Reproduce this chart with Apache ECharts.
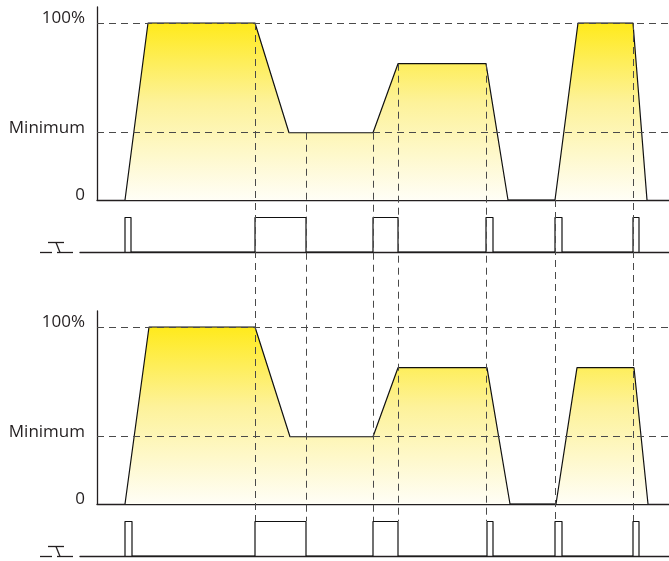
<!DOCTYPE html>
<html><head><meta charset="utf-8">
<script src="https://cdn.jsdelivr.net/npm/echarts@6/dist/echarts.min.js"></script>
<style>html,body{margin:0;padding:0;background:#fff}#c{width:669px;height:561px}</style>
</head><body><div id="c"></div>
<script>
// ---------------- data ----------------
// time in arbitrary units, level in % of full light output
const topLevelTimes    = [28, 51, 158, 192, 276, 301, 389, 411, 458, 481, 536, 550];
const topLevels        = [0, 100, 100, 38, 38, 77, 77, 0, 0, 100, 100, 0];
const bottomLevelTimes = [28, 52, 158, 193, 276, 301, 390, 413, 459, 480, 537, 551];
const bottomLevels     = [0, 100, 100, 38, 38, 77, 77, 0, 0, 77, 77, 0];
// push-button pulses (start / end times)
const topPulseStarts    = [28, 158, 276, 389, 458, 536];
const topPulseEnds      = [34, 209, 301, 396, 465, 542];
const bottomPulseStarts = [28, 158, 276, 390, 458, 536];
const bottomPulseEnds   = [35, 209, 301, 396, 465, 542];
// vertical guide lines: time and starting level (top panel)
const markerTimes  = [158, 209, 276, 301, 389, 458, 536];
const markerLevels = [100, 38, 38, 77, 77, 0, 100];
// y tick labels
const yTickValues = [0, 38, 100];
const yTickLabels = ['0', 'Minimum', '100%'];
const timeMin = 0, timeMax = 572, pulseTimeMin = -17;

// ---------------- layout ----------------
const INK = '#231f20', DASH = '#4a4a4a';
const FONT = '"Open Sans", "DejaVu Sans", sans-serif';
const panelOffsets = [0, 304];
const L = {axisTop: 7, full: 23, zero: 200, pulseTop: 217.5, pulseBase: 252, left: 97, pulseLeft: 80, width: 572};
const pxPerUnit = (L.zero - L.full) / 100;

function zip(xs, ys) { return xs.map((x, i) => [x, ys[i]]); }
function pulsePoints(starts, ends) {
  const pts = [];
  starts.forEach((s, i) => { pts.push([s, 0], [s, 1], [ends[i], 1], [ends[i], 0]); });
  return pts;
}

const grids = [], xAxes = [], yAxes = [], series = [], graphics = [];
const levelSets = [[topLevelTimes, topLevels], [bottomLevelTimes, bottomLevels]];
const pulseSets = [[topPulseStarts, topPulseEnds], [bottomPulseStarts, bottomPulseEnds]];

panelOffsets.forEach((off, p) => {
  // area grid
  const gA = grids.length;
  grids.push({left: L.left, top: L.axisTop + off, width: L.width, height: L.zero - L.axisTop});
  xAxes.push({type: 'value', gridIndex: gA, min: timeMin, max: timeMax,
    axisLine: {show: true, lineStyle: {color: INK, width: 1.3}}, axisTick: {show: false},
    axisLabel: {show: false}, splitLine: {show: false}});
  yAxes.push({type: 'value', gridIndex: gA, min: 0, max: 100 + (L.full - L.axisTop) / pxPerUnit,
    axisLine: {show: true, lineStyle: {color: INK, width: 1.3}}, axisTick: {show: false},
    splitLine: {show: false},
    axisLabel: {show: true, customValues: yTickValues, margin: 12, color: INK, fontFamily: FONT,
      fontSize: 17, lineHeight: 9, verticalAlign: 'bottom',
      formatter: v => yTickLabels[yTickValues.indexOf(v)]}});
  series.push({type: 'line', xAxisIndex: gA, yAxisIndex: gA, data: zip(levelSets[p][0], levelSets[p][1]),
    symbol: 'none', z: 2, lineStyle: {color: '#111', width: 1.2},
    areaStyle: {opacity: 1, color: new echarts.graphic.LinearGradient(0, 0, 0, 1, [
      {offset: 0, color: '#ffea1c'}, {offset: 0.45, color: '#fdf29a'}, {offset: 1, color: '#fffef6'}])},
    markLine: {silent: true, symbol: 'none', label: {show: false},
      lineStyle: {color: DASH, type: [7, 5], width: 1},
      data: [{yAxis: 100}, {yAxis: 38}]}});

  // pulse grid
  const gP = grids.length;
  grids.push({left: L.pulseLeft, top: L.pulseTop + off, width: L.width + L.left - L.pulseLeft,
    height: L.pulseBase - L.pulseTop});
  xAxes.push({type: 'value', gridIndex: gP, min: pulseTimeMin, max: timeMax,
    axisLine: {show: true, lineStyle: {color: INK, width: 1.3}}, axisTick: {show: false},
    axisLabel: {show: false}, splitLine: {show: false}});
  yAxes.push({type: 'value', gridIndex: gP, min: 0, max: 1, show: false, splitLine: {show: false}});
  series.push({type: 'line', xAxisIndex: gP, yAxisIndex: gP,
    data: pulsePoints(pulseSets[p][0], pulseSets[p][1]),
    symbol: 'none', lineStyle: {color: '#111', width: 1.2}});

  // switch symbol
  const b = L.pulseBase + off + 0.5, t = b - 10;
  const st = {stroke: INK, lineWidth: 1.3, fill: null};
  graphics.push(
    {type: 'polyline', shape: {points: [[40, b], [52, b]]}, style: st, silent: true},
    {type: 'polyline', shape: {points: [[57, b], [73, b]]}, style: st, silent: true},
    {type: 'polyline', shape: {points: [[48, t], [64, t]]}, style: st, silent: true},
    {type: 'polyline', shape: {points: [[56, t], [60, b]]}, style: st, silent: true}
  );
});

// overlay grid for vertical dashed guide lines (in top-panel level units)
const overlayTop = L.full, overlayBottom = 217 + panelOffsets[1];
const gO = grids.length;
grids.push({left: L.left, top: overlayTop, width: L.width, height: overlayBottom - overlayTop});
xAxes.push({type: 'value', gridIndex: gO, min: timeMin, max: timeMax, show: false, splitLine: {show: false}});
const overlayMin = 100 - (overlayBottom - overlayTop) / pxPerUnit;
yAxes.push({type: 'value', gridIndex: gO, min: overlayMin, max: 100, show: false, splitLine: {show: false}});
series.push({type: 'lines', coordinateSystem: 'cartesian2d', xAxisIndex: gO, yAxisIndex: gO, z: 6,
  silent: true, lineStyle: {color: DASH, type: [7, 5], width: 1, opacity: 1},
  data: markerTimes.map((t, i) => ({coords: [[t, markerLevels[i]], [t, overlayMin]]}))});

const chart = echarts.init(document.getElementById('c'), null, {renderer: 'canvas'});
chart.setOption({animation: false, backgroundColor: '#fff', grid: grids, xAxis: xAxes, yAxis: yAxes,
  series: series, graphic: graphics});
</script></body></html>
